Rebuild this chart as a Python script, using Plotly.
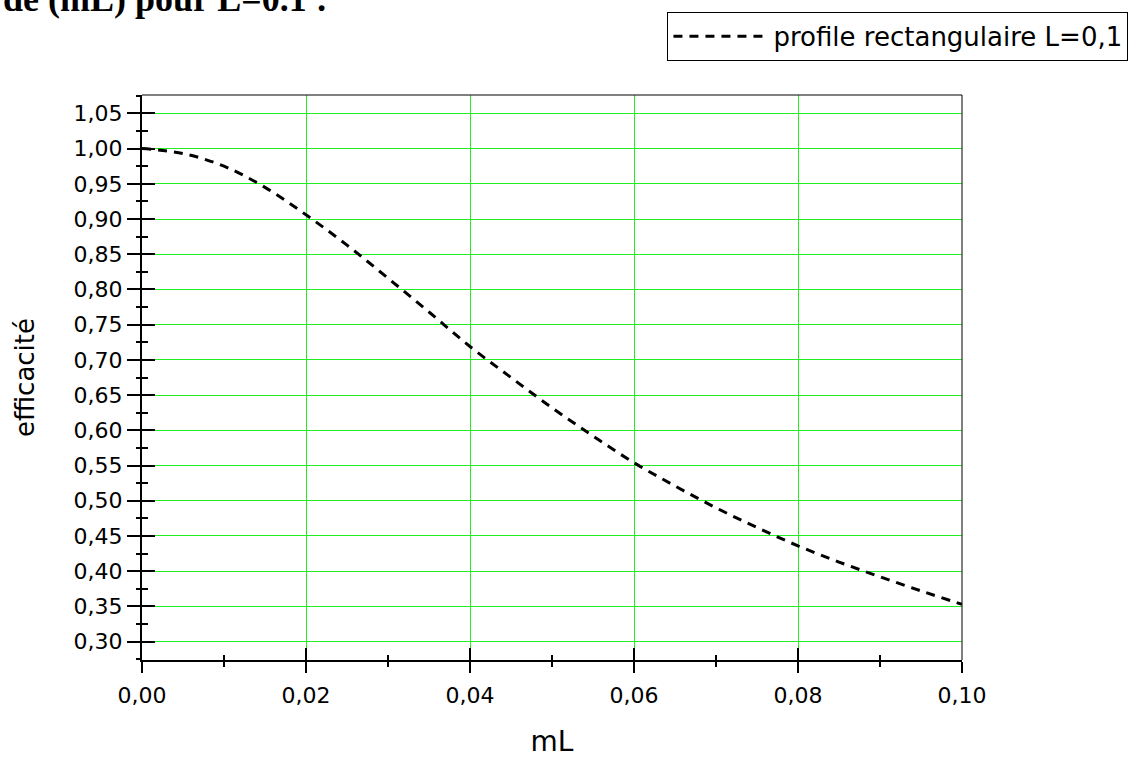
import plotly.graph_objects as go

# Data
mL = [0.000, 0.005, 0.010, 0.015, 0.020, 0.025, 0.030, 0.035, 0.040, 0.045, 0.050,
      0.055, 0.060, 0.065, 0.070, 0.075, 0.080, 0.085, 0.090, 0.095, 0.100]
efficacite = [1.000, 0.993, 0.975, 0.945, 0.906, 0.863, 0.816, 0.768, 0.719, 0.675, 0.632,
              0.592, 0.554, 0.521, 0.490, 0.462, 0.436, 0.413, 0.392, 0.372, 0.353]
series_name = "profile rectangulaire L=0,1"
x_ticks = [0.00, 0.02, 0.04, 0.06, 0.08, 0.10]
y_ticks = [0.30, 0.35, 0.40, 0.45, 0.50, 0.55, 0.60, 0.65, 0.70, 0.75, 0.80, 0.85, 0.90, 0.95, 1.00, 1.05]

GREEN = "#22ee22"
FONT = "DejaVu Sans, Arial, sans-serif"

fig = go.Figure()
fig.add_trace(go.Scatter(
    x=mL, y=efficacite, mode="lines", name=series_name,
    line=dict(color="black", width=3, dash="9px,7px", shape="spline"),
))
# invisible helper trace to activate the overlay axes (inside ticks)
fig.add_trace(go.Scatter(x=[None], y=[None], xaxis="x2", yaxis="y2",
                         showlegend=False, hoverinfo="skip"))

xr = [0.0, 0.1]
yr = [0.2739, 1.0761]

fig.update_layout(
    width=1141, height=764,
    margin=dict(l=142, r=171, t=93, b=87),
    paper_bgcolor="white", plot_bgcolor="white",
    separators=", ",
    font=dict(family=FONT, color="black", size=22),
    xaxis=dict(
        range=xr, tickvals=x_ticks, tickformat=".2f",
        ticks="outside", ticklen=11, tickwidth=2, tickcolor="black",
        minor=dict(dtick=0.01, tick0=0, ticks="outside", ticklen=5, tickwidth=2,
                   tickcolor="black", showgrid=False),
        showline=True, linecolor="black", linewidth=2,
        showgrid=True, gridcolor=GREEN, gridwidth=1,
        zeroline=False,
        tickfont=dict(size=22),
        ticklabelstandoff=4,
        title=dict(text="mL", font=dict(size=28), standoff=24),
    ),
    yaxis=dict(
        range=yr, tickvals=y_ticks, tickformat=".2f",
        ticks="outside", ticklen=13, tickwidth=2, tickcolor="black",
        minor=dict(dtick=0.025, tick0=0.275, ticks="outside", ticklen=4, tickwidth=2,
                   tickcolor="black", showgrid=False),
        showline=True, linecolor="black", linewidth=2,
        showgrid=True, gridcolor=GREEN, gridwidth=1,
        zeroline=False,
        tickfont=dict(size=22),
        title=dict(text="efficacité", font=dict(size=26), standoff=32),
    ),
    xaxis2=dict(
        overlaying="x", range=xr, tickvals=x_ticks, showticklabels=False,
        ticks="inside", ticklen=12, tickwidth=2, tickcolor="black",
        minor=dict(dtick=0.01, tick0=0, ticks="inside", ticklen=5, tickwidth=2,
                   tickcolor="black", showgrid=False),
        showgrid=False, showline=False, zeroline=False, anchor="y2",
    ),
    yaxis2=dict(
        overlaying="y", range=yr, tickvals=y_ticks, showticklabels=False,
        ticks="inside", ticklen=13, tickwidth=2, tickcolor="black",
        minor=dict(dtick=0.025, tick0=0.275, ticks="inside", ticklen=6, tickwidth=2,
                   tickcolor="black", showgrid=False),
        showgrid=False, showline=False, zeroline=False, anchor="x2",
    ),
    legend=dict(
        x=1.203, xanchor="right", y=1.147, yanchor="top",
        bordercolor="black", borderwidth=1, bgcolor="white",
        font=dict(size=26, family=FONT),
        itemwidth=95, tracegroupgap=0,
    ),
    showlegend=True,
    shapes=[
        dict(type="line", xref="paper", yref="paper", x0=0, x1=1, y0=1, y1=1,
             line=dict(color="black", width=1)),
        dict(type="line", xref="paper", yref="paper", x0=1, x1=1, y0=0, y1=1,
             line=dict(color="black", width=1)),
    ],
    annotations=[
        dict(text="<b>de (mL) pour L=0.1 :</b>", xref="paper", yref="paper",
             x=-0.1715, y=1.1318, xanchor="left", yanchor="bottom", showarrow=False,
             font=dict(family="Liberation Serif, Times New Roman, serif", size=36, color="black")),
    ],
)

fig.write_html("out.html")
